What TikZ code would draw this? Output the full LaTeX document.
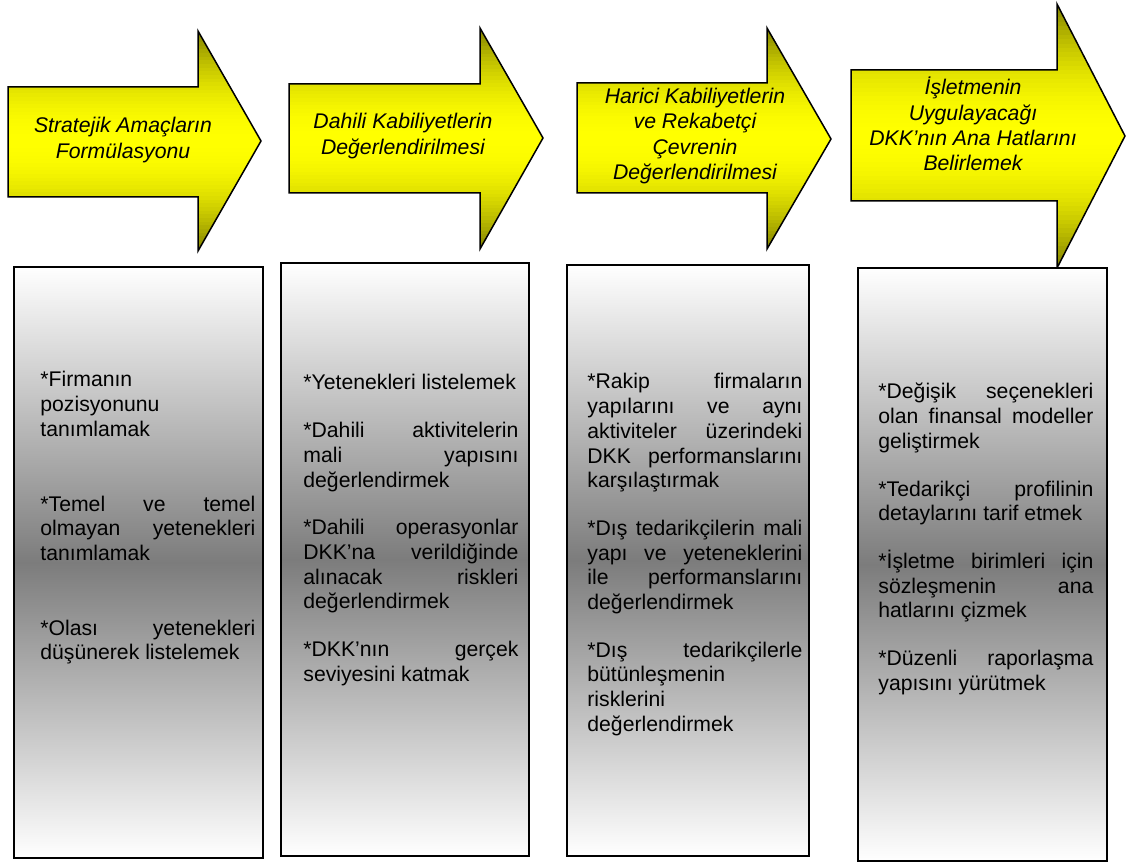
\documentclass[tikz,border=0pt]{standalone}
\usepackage{fontspec}
\setmainfont{Liberation Sans}
\definecolor{arrowolive}{HTML}{7F7F00}
\definecolor{arrowyellow}{HTML}{FFFF00}
\definecolor{boxgray}{HTML}{7C7C7C}
\newcommand\stagefont{\fontsize{10.6pt}{12.6pt}\selectfont}
\newcommand\taskfont{\fontsize{10.6pt}{12.35pt}\selectfont
  \pretolerance=10000 \tolerance=10000 \hbadness=10000 \hyphenpenalty=10000}
\newcommand\taskgap[1][11.5pt]{\par\vspace{#1}}
\tikzset{
  stagearrow/.style={draw=black, line width=0.75pt, line join=miter},
  stagetext/.style={font=\stagefont\itshape, align=center, inner sep=0pt, text=black},
  taskbox/.style={draw=black, line width=0.7pt, top color=white, bottom color=white,
    middle color=boxgray},
  tasktext/.style={font=\taskfont, text width=107.5pt, align=justify, inner sep=0pt,
    anchor=base west, text=black},
}
\begin{document}
\begin{tikzpicture}[x=0.5pt,y=0.5pt]
  \useasboundingbox (0,0) rectangle (1126,863);
  % stage arrows: left, body top, body bottom, head x, head top, head bottom, tip
  \foreach \l/\t/\b/\h/\ht/\hb/\tx/\ty in {8/776/666/198/832/612/261/722,
      289/779/670/480/835/614/543/725, 577/780/670/767/835/614/831/724,
      851/793/662/1057/859/595/1125/727} {
    \def\arrowpath{(\l,\t) -- (\h,\t) -- (\h,\ht) -- (\tx,\ty) -- (\h,\hb)
      -- (\h,\b) -- (\l,\b) -- cycle}
    % olive at the head ends, yellow through the middle
    \begin{scope}
      \clip \arrowpath;
      \foreach \k in {0,...,59} {
        \pgfmathsetmacro{\ya}{\hb+(\ht-\hb)*\k/60}
        \pgfmathsetmacro{\yb}{\hb+(\ht-\hb)*(\k+1)/60+0.6}
        \pgfmathsetmacro{\d}{2*((\k+0.5)/60-0.5)}
        \pgfmathsetmacro{\p}{100*(1-\d*\d)}
        \fill[arrowyellow!\p!arrowolive] (\l,\ya) rectangle (\tx,\yb);
      }
    \end{scope}
    \draw[stagearrow] \arrowpath;
  }
  \node[stagetext] (s1) at (123,723) {Stratejik Amaçların\\Formülasyonu};
  \node[stagetext] (s2) at (403,727) {Dahili Kabiliyetlerin\\Değerlendirilmesi};
  \node[stagetext] (s3) at (695,727) {Harici Kabiliyetlerin\\ve Rekabetçi\\Çevrenin\\Değerlendirilmesi};
  \node[stagetext] (s4) at (973,739) {İşletmenin\\Uygulayacağı\\DKK’nın Ana Hatlarını\\Belirlemek};
  % task boxes under each stage
  \foreach \x/\y/\xx/\yy in {14/596/263/5, 281/600/529/7, 567/598/809/7, 858/595/1107/2} {
    \draw[taskbox] (\x,\yy) rectangle (\xx,\y);
  }
  \node[tasktext] (t1) at (40,476) {*Firmanın\newline pozisyonunu\newline tanımlamak
    \taskgap[25pt]*Temel ve temel\linebreak olmayan yetenekleri\linebreak tanımlamak
    \taskgap[25pt]*Olası yetenekleri\linebreak düşünerek listelemek};
  \node[tasktext] (t2) at (303,473) {*Yetenekleri listelemek
    \taskgap*Dahili aktivitelerin\linebreak mali yapısını\linebreak değerlendirmek
    \taskgap*Dahili operasyonlar\linebreak DKK’na verildiğinde\linebreak alınacak riskleri\linebreak değerlendirmek
    \taskgap*DKK’nın gerçek\linebreak seviyesini katmak};
  \node[tasktext] (t3) at (587,474) {*Rakip firmaların\linebreak yapılarını ve aynı\linebreak aktiviteler üzerindeki\linebreak DKK performanslarını\linebreak karşılaştırmak
    \taskgap*Dış tedarikçilerin mali\linebreak yapı ve yeteneklerini\linebreak ile performanslarını\linebreak değerlendirmek
    \taskgap*Dış tedarikçilerle\linebreak bütünleşmenin\newline risklerini\newline değerlendirmek};
  \node[tasktext] (t4) at (878,464) {*Değişik seçenekleri\linebreak olan finansal modeller\linebreak geliştirmek
    \taskgap*Tedarikçi profilinin\linebreak detaylarını tarif etmek
    \taskgap*İşletme birimleri için\linebreak sözleşmenin ana\linebreak hatlarını çizmek
    \taskgap*Düzenli raporlaşma\linebreak yapısını yürütmek};
\end{tikzpicture}
\end{document}
